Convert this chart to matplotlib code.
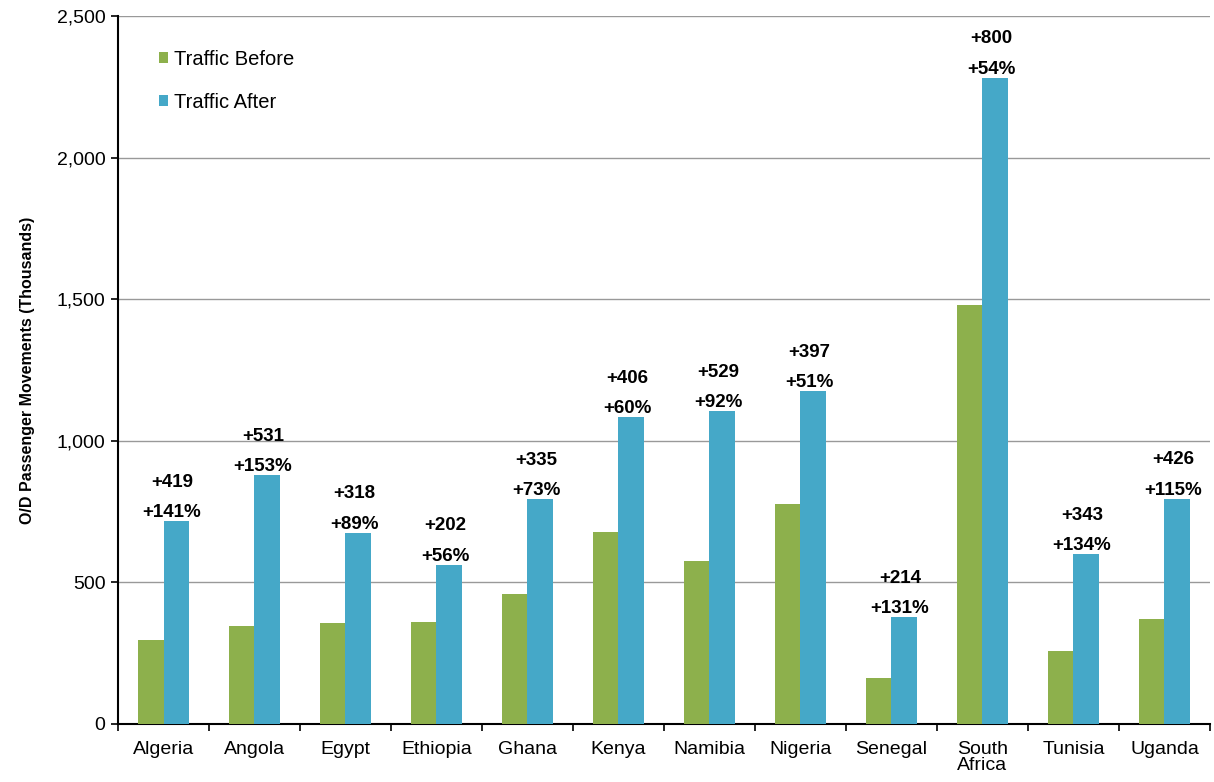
import matplotlib.pyplot as plt
import numpy as np

# data (thousands of O/D passenger movements)
countries = ["Algeria", "Angola", "Egypt", "Ethiopia", "Ghana", "Kenya", "Namibia",
             "Nigeria", "Senegal", "South\nAfrica", "Tunisia", "Uganda"]
before = [297, 347, 357, 361, 459, 677, 575, 778, 163, 1481, 256, 370]
after = [716, 878, 675, 563, 794, 1083, 1104, 1175, 377, 2281, 599, 796]
increase = ["+419", "+531", "+318", "+202", "+335", "+406", "+529", "+397", "+214", "+800", "+343", "+426"]
pct = ["+141%", "+153%", "+89%", "+56%", "+73%", "+60%", "+92%", "+51%", "+131%", "+54%", "+134%", "+115%"]

plt.rcParams['font.family'] = ['Liberation Sans', 'DejaVu Sans']

fig = plt.figure(figsize=(12.14, 7.82), dpi=100)
ax = fig.add_axes([0.0972, 0.0742, 0.8995, 0.9053])

x = np.arange(len(countries))
w = 0.28
ax.bar(x - w/2, before, w, color="#8DB04C", label="Traffic Before", zorder=3)
ax.bar(x + w/2, after, w, color="#45A8C8", label="Traffic After", zorder=3)

# labels above the "after" bars
for i in range(len(x)):
    ax.annotate(pct[i], (x[i] + w/2, after[i]), xytext=(-3, 0), textcoords="offset points",
                ha="center", va="bottom", fontsize=13.5, fontweight="bold")
    ax.annotate(increase[i], (x[i] + w/2, after[i]), xytext=(-3, 22), textcoords="offset points",
                ha="center", va="bottom", fontsize=13.5, fontweight="bold")

ax.set_xlim(-0.5, len(x) - 0.5)
ax.set_ylim(0, 2500)
ax.set_yticks([0, 500, 1000, 1500, 2000, 2500])
ax.set_yticklabels(["0", "500", "1,000", "1,500", "2,000", "2,500"], fontsize=14)
ax.set_xticks(x)
ax.set_xticklabels(countries, fontsize=14, linespacing=0.95)
ax.tick_params(axis="x", length=0, pad=12)
ax.set_xticks(np.arange(-0.5, len(x), 1), minor=True)
ax.tick_params(axis="x", which="minor", length=5, direction="out", width=1.2)
ax.tick_params(axis="y", length=5, direction="out", width=1.2, pad=4)

ax.grid(axis="y", color="#999999", linewidth=1, zorder=0)
ax.spines["top"].set_visible(False)
ax.spines["right"].set_visible(False)
ax.spines["left"].set_linewidth(1.5)
ax.spines["bottom"].set_linewidth(1.5)

ax.set_ylabel("O/D Passenger Movements (Thousands)", fontsize=11.5, fontweight="bold", labelpad=16)

leg = ax.legend(loc="upper left", bbox_to_anchor=(0.021, 0.978), frameon=False, fontsize=14.5,
                handlelength=0.45, handleheight=0.45, handletextpad=0.3, labelspacing=1.2)

fig.savefig("out.png", dpi=100)
